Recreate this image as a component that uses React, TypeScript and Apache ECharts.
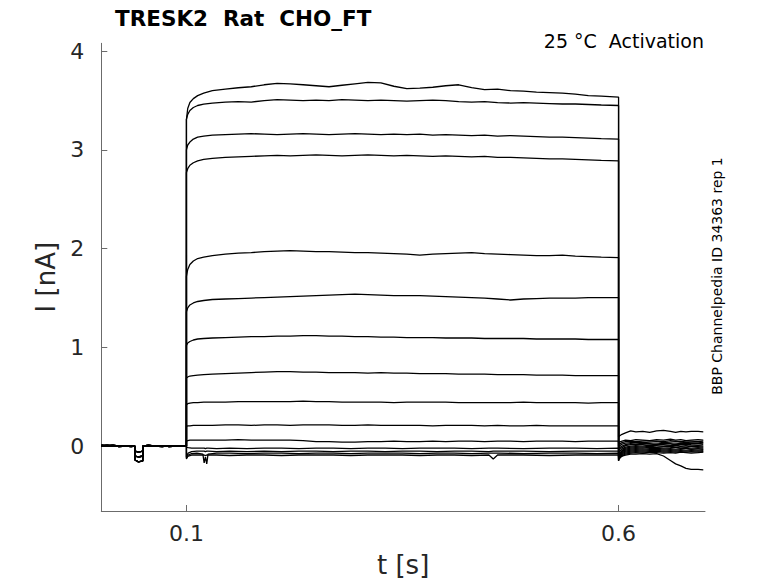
import React, { useEffect, useRef } from "react";
import * as echarts from "echarts";

const FONT = "DejaVu Sans";

const TITLE = "TRESK2  Rat  CHO_FT";
const SUBTITLE = "25 °C  Activation";
const SIDE_NOTE = "BBP Channelpedia ID 34363 rep 1";
const X_NAME = "t [s]";
const Y_NAME = "I [nA]";

const X_TICKS = [0.1, 0.6];
const X_TICK_LABELS = ["0.1", "0.6"];
const Y_TICKS = [0, 1, 2, 3, 4];
const Y_TICK_LABELS = ["0", "1", "2", "3", "4"];

// holding period before the step (s)
const PRE_T = [0.0015, 0.008, 0.015, 0.022, 0.03, 0.036, 0.0402, 0.0405, 0.0445, 0.0495, 0.0498, 0.056, 0.064, 0.072, 0.08, 0.088, 0.095, 0.1];
const PRE_A = [0.01, 0.005, 0.01, 0.0, 0.005, 0.0, 0.0, -0.05, -0.06, -0.05, 0.0, 0.01, 0.0, -0.005, 0.005, 0.0, 0.005, 0.0];
const PRE_B = [0.005, 0.0, 0.005, -0.005, 0.0, 0.005, 0.0, -0.14, -0.16, -0.15, 0.0, 0.0, 0.005, 0.0, 0.0, 0.005, 0.0, 0.0];
const PRE_C = [0.0, 0.01, 0.0, 0.005, 0.0, -0.005, 0.0, -0.1, -0.11, -0.1, 0.0, 0.005, 0.0, 0.005, -0.005, 0.0, 0.0, 0.0];

// step period, upper sweeps (s)
const PT = [0.1, 0.1015, 0.104, 0.108, 0.113, 0.12, 0.13, 0.145, 0.16, 0.175, 0.19, 0.205, 0.22, 0.235, 0.25, 0.265, 0.28, 0.295, 0.31, 0.325, 0.34, 0.355, 0.37, 0.385, 0.4, 0.415, 0.43, 0.445, 0.46, 0.475, 0.49, 0.505, 0.52, 0.535, 0.55, 0.565, 0.58, 0.6];
const ON_1 = [3.31, 3.42, 3.48, 3.52, 3.55, 3.575, 3.6, 3.615, 3.63, 3.64, 3.66, 3.675, 3.67, 3.66, 3.65, 3.64, 3.655, 3.67, 3.685, 3.68, 3.645, 3.62, 3.625, 3.635, 3.65, 3.66, 3.63, 3.61, 3.615, 3.6, 3.595, 3.585, 3.58, 3.575, 3.565, 3.55, 3.545, 3.535];
const ON_2 = [3.31, 3.36, 3.4, 3.43, 3.45, 3.465, 3.475, 3.485, 3.49, 3.485, 3.5, 3.51, 3.505, 3.5, 3.505, 3.5, 3.51, 3.505, 3.5, 3.505, 3.5, 3.495, 3.5, 3.505, 3.5, 3.49, 3.485, 3.49, 3.48, 3.475, 3.48, 3.475, 3.47, 3.465, 3.465, 3.46, 3.455, 3.45];
const ON_3 = [3.0, 3.05, 3.08, 3.11, 3.13, 3.14, 3.15, 3.155, 3.16, 3.165, 3.16, 3.155, 3.16, 3.165, 3.16, 3.155, 3.16, 3.165, 3.16, 3.155, 3.16, 3.155, 3.16, 3.15, 3.155, 3.15, 3.145, 3.15, 3.14, 3.145, 3.14, 3.135, 3.13, 3.13, 3.125, 3.12, 3.115, 3.11];
const ON_4 = [2.77, 2.81, 2.845, 2.87, 2.89, 2.905, 2.915, 2.925, 2.93, 2.935, 2.94, 2.945, 2.94, 2.945, 2.95, 2.945, 2.94, 2.945, 2.95, 2.945, 2.94, 2.945, 2.94, 2.935, 2.94, 2.935, 2.93, 2.935, 2.925, 2.925, 2.92, 2.915, 2.91, 2.91, 2.905, 2.9, 2.895, 2.89];
const ON_5 = [1.72, 1.79, 1.84, 1.875, 1.9, 1.915, 1.93, 1.945, 1.955, 1.96, 1.97, 1.975, 1.98, 1.975, 1.97, 1.97, 1.965, 1.96, 1.96, 1.955, 1.95, 1.945, 1.935, 1.945, 1.95, 1.955, 1.96, 1.95, 1.945, 1.94, 1.935, 1.93, 1.93, 1.935, 1.925, 1.92, 1.915, 1.91];
const ON_6 = [1.36, 1.4, 1.43, 1.45, 1.465, 1.475, 1.485, 1.49, 1.495, 1.5, 1.505, 1.51, 1.515, 1.52, 1.525, 1.53, 1.535, 1.54, 1.535, 1.53, 1.525, 1.525, 1.525, 1.52, 1.515, 1.51, 1.505, 1.5, 1.49, 1.48, 1.49, 1.495, 1.5, 1.5, 1.5, 1.505, 1.505, 1.505];
const ON_7 = [1.02, 1.045, 1.06, 1.075, 1.085, 1.09, 1.095, 1.1, 1.105, 1.11, 1.11, 1.115, 1.115, 1.12, 1.12, 1.115, 1.115, 1.11, 1.11, 1.105, 1.105, 1.1, 1.1, 1.1, 1.095, 1.095, 1.095, 1.09, 1.09, 1.09, 1.09, 1.085, 1.085, 1.085, 1.085, 1.08, 1.08, 1.08];
const ON_8 = [0.69, 0.7, 0.71, 0.715, 0.72, 0.725, 0.73, 0.735, 0.74, 0.745, 0.75, 0.755, 0.755, 0.75, 0.75, 0.745, 0.745, 0.745, 0.74, 0.745, 0.74, 0.74, 0.735, 0.735, 0.735, 0.73, 0.73, 0.73, 0.725, 0.725, 0.725, 0.72, 0.72, 0.72, 0.715, 0.715, 0.715, 0.715];
const ON_9 = [0.42, 0.43, 0.435, 0.44, 0.44, 0.445, 0.445, 0.445, 0.45, 0.45, 0.45, 0.45, 0.45, 0.455, 0.45, 0.45, 0.445, 0.445, 0.445, 0.445, 0.44, 0.445, 0.445, 0.445, 0.445, 0.44, 0.44, 0.44, 0.44, 0.44, 0.445, 0.44, 0.44, 0.44, 0.44, 0.435, 0.44, 0.44];
const ON_10 = [0.2, 0.205, 0.205, 0.21, 0.21, 0.21, 0.21, 0.215, 0.215, 0.21, 0.215, 0.215, 0.21, 0.215, 0.215, 0.215, 0.21, 0.21, 0.215, 0.21, 0.21, 0.21, 0.21, 0.205, 0.21, 0.21, 0.21, 0.205, 0.21, 0.205, 0.205, 0.21, 0.205, 0.205, 0.205, 0.205, 0.205, 0.205];
const ON_11 = [0.05, 0.055, 0.06, 0.06, 0.06, 0.06, 0.06, 0.06, 0.065, 0.06, 0.06, 0.06, 0.06, 0.055, 0.045, 0.045, 0.04, 0.04, 0.045, 0.045, 0.05, 0.045, 0.045, 0.05, 0.045, 0.05, 0.05, 0.045, 0.05, 0.05, 0.045, 0.05, 0.05, 0.05, 0.045, 0.05, 0.05, 0.05];

// step period, lower sweeps (s)
const LOW_T = [0.1, 0.102, 0.106, 0.112, 0.119, 0.1205, 0.122, 0.1235, 0.125, 0.135, 0.15, 0.17, 0.19, 0.21, 0.23, 0.25, 0.27, 0.29, 0.31, 0.33, 0.35, 0.37, 0.39, 0.41, 0.43, 0.45, 0.455, 0.46, 0.49, 0.52, 0.55, 0.575, 0.6];
const ON_12 = [-0.01, -0.015, -0.02, -0.02, -0.02, -0.02, -0.025, -0.02, -0.02, -0.025, -0.02, -0.025, -0.02, -0.02, -0.025, -0.02, -0.02, -0.025, -0.02, -0.02, -0.025, -0.02, -0.02, -0.02, -0.025, -0.02, -0.02, -0.02, -0.025, -0.02, -0.02, -0.025, -0.02];
const ON_13 = [-0.11, -0.07, -0.055, -0.05, -0.05, -0.05, -0.055, -0.05, -0.05, -0.055, -0.05, -0.055, -0.05, -0.055, -0.05, -0.05, -0.055, -0.05, -0.05, -0.055, -0.05, -0.05, -0.055, -0.05, -0.05, -0.055, -0.05, -0.05, -0.05, -0.055, -0.05, -0.05, -0.05];
const ON_14 = [-0.13, -0.09, -0.075, -0.07, -0.08, -0.17, -0.11, -0.18, -0.08, -0.07, -0.07, -0.075, -0.07, -0.07, -0.075, -0.07, -0.07, -0.075, -0.07, -0.07, -0.07, -0.075, -0.07, -0.07, -0.075, -0.07, -0.07, -0.07, -0.075, -0.07, -0.07, -0.075, -0.07];
const ON_15 = [-0.12, -0.1, -0.09, -0.09, -0.09, -0.09, -0.095, -0.09, -0.09, -0.09, -0.095, -0.09, -0.09, -0.095, -0.09, -0.09, -0.09, -0.095, -0.09, -0.09, -0.09, -0.095, -0.09, -0.09, -0.095, -0.09, -0.13, -0.09, -0.09, -0.095, -0.09, -0.09, -0.09];

// tail after the step (s)
const TT = [0.6, 0.6005, 0.604, 0.608, 0.614, 0.62, 0.628, 0.636, 0.644, 0.652, 0.66, 0.666, 0.672, 0.678, 0.684, 0.692, 0.698];
const OFF_1 = [0.09, 0.1, 0.12, 0.135, 0.155, 0.145, 0.15, 0.14, 0.155, 0.16, 0.15, 0.14, 0.15, 0.145, 0.15, 0.15, 0.145];
const OFF_2 = [0.03, 0.04, 0.05, 0.06, 0.055, 0.065, 0.06, 0.055, 0.065, 0.06, 0.07, 0.06, 0.065, 0.055, 0.06, 0.065, 0.06];
const OFF_3 = [0.0, 0.02, 0.035, 0.045, 0.05, 0.045, 0.05, 0.055, 0.05, 0.045, 0.055, 0.05, 0.045, 0.05, 0.05, 0.045, 0.05];
const OFF_4 = [-0.02, 0.0, 0.02, 0.03, 0.035, 0.04, 0.035, 0.04, 0.045, 0.035, 0.04, 0.045, 0.04, 0.035, 0.04, 0.04, 0.035];
const OFF_5 = [-0.05, -0.02, 0.0, 0.015, 0.025, 0.02, 0.03, 0.025, 0.02, 0.03, 0.025, 0.02, 0.03, 0.025, 0.03, 0.025, 0.03];
const OFF_6 = [-0.07, -0.04, -0.015, 0.005, 0.015, 0.02, 0.015, 0.01, 0.02, 0.015, 0.01, 0.02, 0.015, 0.02, 0.015, 0.01, 0.015];
const OFF_7 = [-0.09, -0.06, -0.03, -0.01, 0.0, 0.005, 0.0, 0.01, 0.005, 0.0, 0.005, 0.01, 0.0, 0.005, 0.0, 0.005, 0.0];
const OFF_8 = [-0.11, -0.08, -0.045, -0.02, -0.01, -0.005, -0.01, 0.0, -0.01, -0.005, 0.0, -0.01, -0.005, -0.01, 0.0, -0.005, -0.01];
const OFF_9 = [-0.12, -0.09, -0.05, -0.03, -0.02, -0.015, -0.02, -0.01, -0.015, -0.02, -0.015, -0.01, -0.02, -0.015, -0.02, -0.015, -0.02];
const OFF_10 = [-0.13, -0.1, -0.06, -0.04, -0.03, -0.025, -0.03, -0.025, -0.02, -0.03, -0.025, -0.03, -0.025, -0.02, -0.03, -0.025, -0.03];
const OFF_11 = [-0.14, -0.11, -0.07, -0.05, -0.04, -0.035, -0.04, -0.035, -0.03, -0.04, -0.035, -0.04, -0.035, -0.04, -0.035, -0.04, -0.035];
const OFF_12 = [-0.14, -0.12, -0.08, -0.06, -0.05, -0.045, -0.05, -0.045, -0.04, -0.05, -0.045, -0.05, -0.045, -0.05, -0.045, -0.05, -0.045];
const OFF_13 = [-0.15, -0.12, -0.09, -0.07, -0.06, -0.055, -0.06, -0.055, -0.05, -0.06, -0.055, -0.06, -0.055, -0.06, -0.055, -0.06, -0.055];
const OFF_14 = [-0.15, -0.13, -0.1, -0.08, -0.07, -0.065, -0.07, -0.06, -0.065, -0.07, -0.065, -0.07, -0.06, -0.065, -0.07, -0.065, -0.06];
const OFF_15 = [-0.11, -0.11, -0.1, -0.09, -0.08, -0.08, -0.075, -0.08, -0.075, -0.1, -0.145, -0.18, -0.2, -0.225, -0.235, -0.235, -0.24];

const SWEEPS = [
  [PRE_A, PT, ON_1, OFF_1],
  [PRE_B, PT, ON_2, OFF_2],
  [PRE_C, PT, ON_3, OFF_3],
  [PRE_A, PT, ON_4, OFF_4],
  [PRE_B, PT, ON_5, OFF_5],
  [PRE_C, PT, ON_6, OFF_6],
  [PRE_A, PT, ON_7, OFF_7],
  [PRE_B, PT, ON_8, OFF_8],
  [PRE_C, PT, ON_9, OFF_9],
  [PRE_A, PT, ON_10, OFF_10],
  [PRE_B, PT, ON_11, OFF_11],
  [PRE_C, LOW_T, ON_12, OFF_12],
  [PRE_A, LOW_T, ON_13, OFF_13],
  [PRE_B, LOW_T, ON_14, OFF_14],
  [PRE_C, LOW_T, ON_15, OFF_15],
];

function zip(ts: number[], vs: number[]): number[][] {
  const n = Math.min(ts.length, vs.length);
  const out: number[][] = [];
  for (let i = 0; i < n; i++) out.push([ts[i], vs[i]]);
  return out;
}

export default function App() {
  const ref = useRef<HTMLDivElement>(null);

  useEffect(() => {
    if (!ref.current) return;
    const chart = echarts.init(ref.current, undefined, { renderer: "svg" });

    const series = SWEEPS.map(([pre, onT, on, off], i) => ({
      type: "line",
      name: "sweep " + (i + 1),
      data: [...zip(PRE_T, pre), ...zip(onT, on), ...zip(TT, off)],
      showSymbol: false,
      symbol: "none",
      smooth: false,
      silent: true,
      lineStyle: { color: "#000000", width: 1.3 },
    }));

    chart.setOption({
      animation: false,
      backgroundColor: "#ffffff",
      grid: { left: 101.3, top: 43.3, width: 603.7, height: 469, containLabel: false },
      xAxis: {
        type: "value",
        min: 0.0015,
        max: 0.7,
        name: X_NAME,
        nameLocation: "middle",
        nameGap: 41,
        nameTextStyle: { fontFamily: FONT, fontSize: 26, color: "#262626" },
        axisLine: { show: true, onZero: false, lineStyle: { color: "#6b6b6b", width: 1 } },
        axisTick: { show: true, inside: true, length: 6, customValues: X_TICKS, lineStyle: { color: "#6b6b6b" } },
        axisLabel: {
          customValues: X_TICKS,
          formatter: (v: number) => {
            const k = X_TICKS.findIndex((t) => Math.abs(t - v) < 1e-9);
            return k >= 0 ? X_TICK_LABELS[k] : "";
          },
          fontFamily: FONT,
          fontSize: 22,
          color: "#262626",
          margin: 11,
        },
        splitLine: { show: false },
      },
      yAxis: {
        type: "value",
        min: -0.657,
        max: 4.08,
        name: Y_NAME,
        nameLocation: "middle",
        nameGap: 42,
        nameTextStyle: { fontFamily: FONT, fontSize: 26, color: "#262626" },
        axisLine: { show: true, onZero: false, lineStyle: { color: "#6b6b6b", width: 1 } },
        axisTick: { show: true, inside: true, length: 6, customValues: Y_TICKS, lineStyle: { color: "#6b6b6b" } },
        axisLabel: {
          customValues: Y_TICKS,
          formatter: (v: number) => {
            const k = Y_TICKS.findIndex((t) => Math.abs(t - v) < 1e-9);
            return k >= 0 ? Y_TICK_LABELS[k] : "";
          },
          fontFamily: FONT,
          fontSize: 22,
          color: "#262626",
          margin: 17,
        },
        splitLine: { show: false },
      },
      graphic: [
        {
          type: "text",
          x: 115,
          y: 18,
          silent: true,
          style: { text: TITLE, fontFamily: FONT, fontSize: 21.5, fontWeight: "bold", fill: "#000000", align: "left", verticalAlign: "middle" },
        },
        {
          type: "text",
          x: 704,
          y: 41,
          silent: true,
          style: { text: SUBTITLE, fontFamily: FONT, fontSize: 19, fill: "#000000", align: "right", verticalAlign: "middle" },
        },
        {
          type: "text",
          x: 717,
          y: 276,
          rotation: Math.PI / 2,
          silent: true,
          style: { text: SIDE_NOTE, fontFamily: FONT, fontSize: 14, fill: "#000000", align: "center", verticalAlign: "middle" },
        },
      ],
      series,
    });

    return () => chart.dispose();
  }, []);

  return <div ref={ref} style={{ position: "fixed", left: 0, top: 0, width: 778, height: 583 }} />;
}
